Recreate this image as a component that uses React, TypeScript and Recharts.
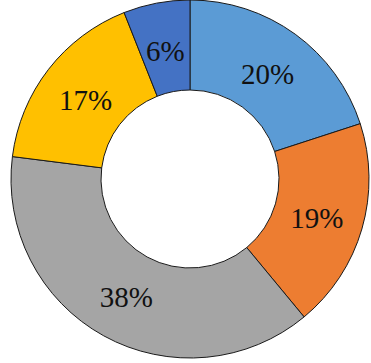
import { Cell, Pie, PieChart } from "recharts";

const categories = ["A", "B", "C", "D", "E"];
const shares = [20, 19, 38, 17, 6];
const colors = ["#5b9bd5", "#ed7d31", "#a5a5a5", "#ffc000", "#4472c4"];

const data = categories.map((name, i) => ({ name, value: shares[i] }));

const RAD = Math.PI / 180;

function renderLabel(props: any) {
  const { cx, cy, midAngle, innerRadius, outerRadius, value } = props;
  const r = (innerRadius + outerRadius) / 2 - 2;
  const x = cx + r * Math.cos(-midAngle * RAD);
  const y = cy + r * Math.sin(-midAngle * RAD) + 2;
  return (
    <text
      x={x}
      y={y}
      fill="#111"
      textAnchor="middle"
      dominantBaseline="central"
      style={{ fontFamily: "Liberation Serif, serif", fontSize: 29 }}
    >
      {`${value}%`}
    </text>
  );
}

export default function App() {
  return (
    <div style={{ position: "fixed", left: 0, top: 0, background: "#fff" }}>
      <PieChart width={371} height={363} margin={{ top: 0, right: 0, bottom: 0, left: 0 }}>
        <Pie
          data={data}
          dataKey="value"
          cx={190}
          cy={179}
          innerRadius={89}
          outerRadius={179}
          startAngle={90}
          endAngle={-270}
          stroke="#1a1a1a"
          strokeWidth={1}
          label={renderLabel}
          labelLine={false}
          isAnimationActive={false}
        >
          {data.map((d, i) => (
            <Cell key={d.name} fill={colors[i]} />
          ))}
        </Pie>
      </PieChart>
    </div>
  );
}
